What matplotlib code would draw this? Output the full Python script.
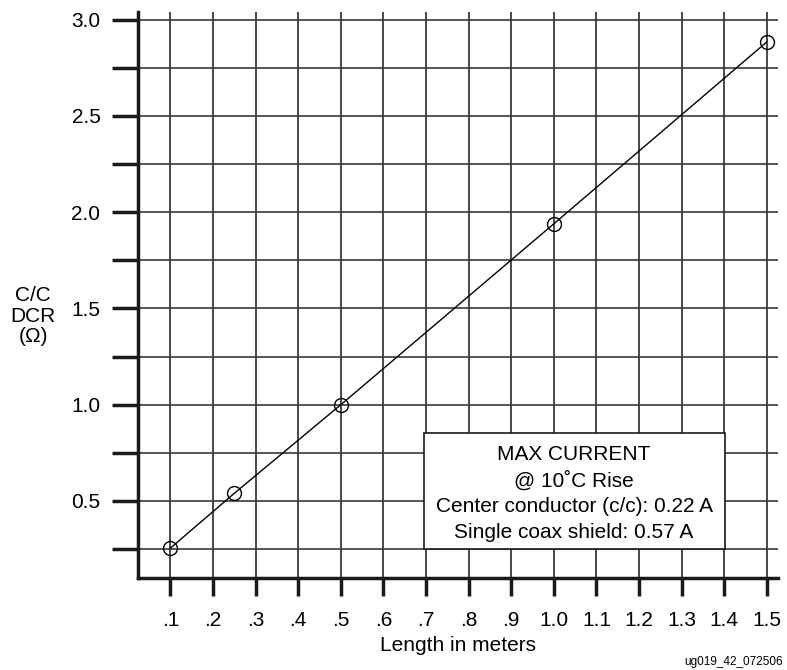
import matplotlib
matplotlib.use("Agg")
import matplotlib.pyplot as plt
from matplotlib.patches import Rectangle
import numpy as np

# Data
length_m = [0.1, 0.25, 0.5, 1.0, 1.5]
dcr_ohm = [0.255, 0.54, 1.0, 1.94, 2.885]
x_ticks = [0.1, 0.2, 0.3, 0.4, 0.5, 0.6, 0.7, 0.8, 0.9, 1.0, 1.1, 1.2, 1.3, 1.4, 1.5]
x_tick_labels = [".1", ".2", ".3", ".4", ".5", ".6", ".7", ".8", ".9",
                 "1.0", "1.1", "1.2", "1.3", "1.4", "1.5"]
y_major = [0.5, 1.0, 1.5, 2.0, 2.5, 3.0]
y_major_labels = ["0.5", "1.0", "1.5", "2.0", "2.5", "3.0"]
y_minor = [0.25, 0.75, 1.25, 1.75, 2.25, 2.75]
box_lines = ["MAX CURRENT", "@ 10\u02daC Rise",
             "Center conductor (c/c): 0.22 A", "Single coax shield: 0.57 A"]

plt.rcParams['font.family'] = ['Liberation Sans', 'DejaVu Sans']
FS = 15

fig = plt.figure(figsize=(7.87, 6.70), dpi=100)
ax = fig.add_axes([138/787, 1-578/670, 640/787, 566/670])

ax.set_xlim(0.024, 1.526)
ax.set_ylim(0.10, 3.04)

# grid
for xv in x_ticks:
    ax.axvline(xv, color='#2a2a2a', lw=1.2, zorder=1)
for yv in sorted(y_major + y_minor):
    ax.axhline(yv, color='#3a3a3a', lw=1.2, zorder=1)

ax.plot(length_m, dcr_ohm, color='black', lw=1.0, zorder=3)
ax.plot(length_m, dcr_ohm, 'o', mfc='none', mec='black', ms=10, mew=1.0, zorder=4)

for s in ['top', 'right']:
    ax.spines[s].set_visible(False)
for s in ['left', 'bottom']:
    ax.spines[s].set_linewidth(2.5)
    ax.spines[s].set_color('#1a1a1a')

ax.set_xticks(x_ticks)
ax.set_xticklabels(x_tick_labels, fontsize=FS)
ax.set_yticks(y_major)
ax.set_yticklabels(y_major_labels, fontsize=FS)
ax.set_yticks(y_minor, minor=True)
ax.tick_params(axis='x', direction='out', length=13, width=2.5, pad=11, color='#1a1a1a')
ax.tick_params(axis='y', which='both', direction='out', length=19, width=2.5, pad=8, color='#1a1a1a')

ax.set_xlabel("Length in meters", fontsize=FS, labelpad=4)

fig.text(33/787, 1-316/670, "C/C\nDCR\n(\u03a9)", ha='center', va='center',
         fontsize=FS, linespacing=1.1)

# annotation box
rect = Rectangle((0.447, 0.051), 0.47, 0.205, transform=ax.transAxes,
                 facecolor='white', edgecolor='#1a1a1a', lw=1.2, zorder=5)
ax.add_patch(rect)
ys = [455, 481, 507, 532]
for t, yp in zip(box_lines, ys):
    fig.text(574/787, 1-yp/670, t, ha='center', va='center', fontsize=FS, zorder=6)

fig.text(783/787, 1-662/670, "ug019_42_072506", ha='right', va='center', fontsize=8.5)

fig.savefig("out.png", dpi=100)
